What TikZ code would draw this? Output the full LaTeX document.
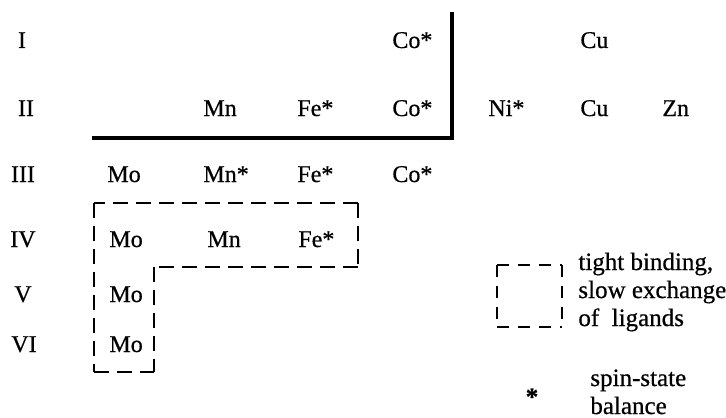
\documentclass[tikz,border=0pt]{standalone}
\usepackage{fontspec}
\setmainfont{Liberation Serif}[FakeBold=0.6]
\begin{document}
\begin{tikzpicture}[x=0.5pt,y=-0.5pt,
  el/.style={anchor=base west, inner sep=0pt, font=\fontsize{12}{14}\selectfont},
  rom/.style={anchor=base, inner sep=0pt, font=\fontsize{12}{14}\selectfont},
  leg/.style={anchor=base west, inner sep=0pt, font=\fontsize{12.5}{15}\selectfont},
  thickline/.style={line width=2pt, line join=miter},
  dashline/.style={line width=0.9pt, dash pattern=on 7.5pt off 4pt},
  legdash/.style={line width=0.9pt, dash pattern=on 6pt off 4.5pt}]
\useasboundingbox (0,0) rectangle (726,417);
% row labels
\node[rom] (rI)   at (22,48)  {I};
\node[rom] (rII)  at (26,116) {II};
\node[rom] (rIII) at (23,182) {III};
\node[rom] (rIV)  at (23,247) {IV};
\node[rom] (rV)   at (23,302) {V};
\node[rom] (rVI)  at (24,352) {VI};
% row I
\node[el] (coI) at (392,48) {Co*};
\node[el] (cuI) at (580,48) {Cu};
% row II
\node[el] (mnII) at (203,116) {Mn};
\node[el] (feII) at (297,116) {Fe*};
\node[el] (coII) at (392,116) {Co*};
\node[el] (niII) at (488,116) {Ni*};
\node[el] (cuII) at (580,116) {Cu};
\node[el] (znII) at (662,116) {Zn};
% row III
\node[el] (moIII) at (107,182) {Mo};
\node[el] (mnIII) at (203,182) {Mn*};
\node[el] (feIII) at (297,182) {Fe*};
\node[el] (coIII) at (392,182) {Co*};
% row IV
\node[el] (moIV) at (109,247) {Mo};
\node[el] (mnIV) at (207,247) {Mn};
\node[el] (feIV) at (298,247) {Fe*};
% rows V, VI
\node[el] (moV)  at (109,302) {Mo};
\node[el] (moVI) at (109,352) {Mo};
% thick boundary
\coordinate (tl) at (92,138);
\coordinate (tc) at (452,138);
\coordinate (tt) at (452,12);
\draw[thickline] (tl) -- (tc) -- (tt);
% dashed L region (each side starts with a dash at a corner)
\coordinate (d1) at (94,203);
\coordinate (d2) at (358,203);
\coordinate (d3) at (358,267);
\coordinate (d4) at (154,267);
\coordinate (d5) at (154,372);
\coordinate (d6) at (94,372);
\draw[dashline] (d2) -- (d1);
\draw[dashline] (d2) -- (d3);
\draw[dashline] (d3) -- (d4);
\draw[dashline] (d4) -- (d5);
\draw[dashline] (d6) -- (d5);
\draw[dashline] (d1) -- (d6);
% legend
\coordinate (la) at (497,265);
\coordinate (lr) at (562,265);
\coordinate (lb) at (562,327);
\coordinate (ll) at (497,327);
\draw[legdash] (la) -- (lr);
\draw[legdash] (lr) -- (lb);
\draw[legdash] (ll) -- (lb);
\draw[legdash] (la) -- (ll);
\node[leg] (t1) at (578,270) {tight binding,};
\node[leg] (t2) at (578,298) {slow exchange};
\node[leg] (t3) at (578,326) {of~~ligands};
\node[anchor=base, inner sep=0pt, font=\fontsize{12.5}{15}\selectfont\bfseries] (ast) at (532,405) {*};
\node[leg] (s1) at (590,386) {spin-state};
\node[leg] (s2) at (590,414) {balance};
\end{tikzpicture}
\end{document}
